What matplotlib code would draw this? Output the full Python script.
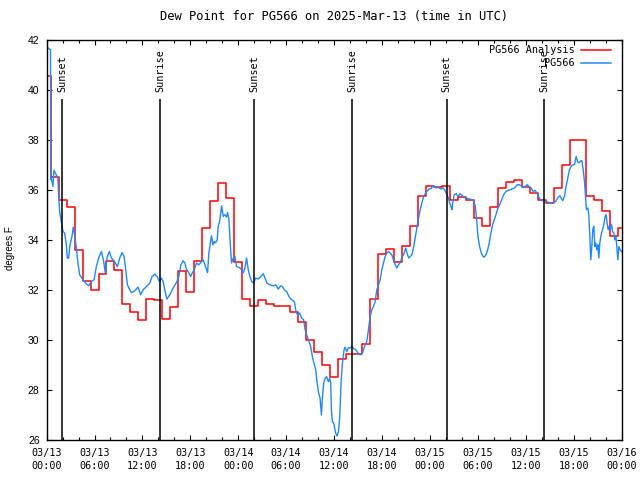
import matplotlib
matplotlib.use("Agg")
import matplotlib.pyplot as plt
from matplotlib.ticker import MultipleLocator

plt.rcParams['font.family'] = 'DejaVu Sans Mono'
plt.rcParams['font.size'] = 7.3

# hours since 2025-03-13 00:00 UTC
analysis_hours = list(range(73))
analysis_dewpt = [40.55, 36.5, 35.6, 35.3, 33.6, 32.35, 32.0, 32.65, 33.15, 32.8,
                  31.45, 31.1, 30.8, 31.65, 31.6, 30.85, 31.3, 32.75, 31.9, 33.15,
                  34.45, 35.55, 36.25, 35.65, 33.1, 31.65, 31.35, 31.6, 31.45, 31.35,
                  31.35, 31.1, 30.7, 30.0, 29.5, 29.0, 28.5, 29.25, 29.45, 29.45,
                  29.85, 31.65, 33.45, 33.65, 33.1, 33.75, 34.55, 35.75, 36.15, 36.1,
                  36.15, 35.6, 35.7, 35.6, 34.85, 34.55, 35.3, 36.05, 36.3, 36.4,
                  36.1, 35.85, 35.6, 35.45, 36.05, 37.0, 38.0, 38.0, 35.75, 35.6,
                  35.15, 34.15, 34.45]

obs_hours = [0.0, 0.15, 0.3, 0.49, 0.51, 0.59, 0.79, 0.92, 1.21, 1.42, 1.51, 1.63, 1.84,
             2.05, 2.26, 2.47, 2.59, 2.76, 2.93, 3.18, 3.34, 3.51, 3.72, 3.93, 4.14,
             4.56, 4.97, 5.27, 5.60, 5.94, 6.23, 6.52, 6.86, 7.11, 7.36, 7.48, 7.61,
             7.86, 8.11, 8.32, 8.61, 8.86, 9.16, 9.45, 9.70, 9.91, 10.12, 10.41, 10.62,
             11.04, 11.45, 11.79, 12.08, 12.50, 12.92, 13.21, 13.55, 13.88, 14.13,
             14.38, 14.59, 14.80, 15.05, 15.43, 15.84, 16.26, 16.56, 16.81, 17.10,
             17.31, 17.52, 17.73, 18.02, 18.23, 18.48, 18.77, 19.06, 19.40, 19.61,
             19.82, 20.03, 20.15, 20.32, 20.53, 20.65, 20.82, 20.99, 21.15, 21.36,
             21.49, 21.70, 21.91, 22.12, 22.32, 22.53, 22.66, 22.83, 22.99, 23.16,
             23.37, 23.58, 23.79, 24.0, 24.21, 24.41, 24.62, 24.83, 25.04, 25.25,
             25.46, 25.67, 25.92, 26.17, 26.51, 26.84, 27.13, 27.34, 27.59, 27.97,
             28.39, 28.68, 29.01, 29.31, 29.52, 29.77, 30.06, 30.35, 30.69, 31.02,
             31.19, 31.40, 31.69, 31.94, 32.19, 32.36, 32.57, 32.78, 33.07, 33.28,
             33.49, 33.70, 33.86, 34.03, 34.24, 34.41, 34.53, 34.70, 34.87, 35.07,
             35.28, 35.45, 35.58, 35.66, 35.79, 35.95, 36.20, 36.37, 36.54, 36.71,
             36.87, 37.04, 37.25, 37.37, 37.58, 37.79, 38.0, 38.21, 38.50, 38.75,
             39.0, 39.26, 39.55, 39.80, 40.09, 40.30, 40.51, 40.72, 40.93, 41.14,
             41.35, 41.56, 41.76, 41.97, 42.18, 42.39, 42.60, 42.81, 43.02, 43.23,
             43.44, 43.65, 43.86, 44.06, 44.27, 44.48, 44.77, 44.98, 45.19, 45.36,
             45.53, 45.74, 45.94, 46.15, 46.36, 46.57, 46.78, 46.99, 47.20, 47.41,
             47.62, 47.91, 48.16, 48.37, 48.54, 48.79, 49.08, 49.37, 49.62, 49.83,
             50.04, 50.21, 50.42, 50.63, 50.75, 50.88, 51.04, 51.30, 51.51, 51.80,
             52.05, 52.30, 52.63, 52.97, 53.26, 53.47, 53.68, 53.89, 54.01, 54.22,
             54.43, 54.64, 54.81, 55.02, 55.23, 55.43, 55.64, 55.85, 56.06, 56.27,
             56.48, 56.73, 56.98, 57.23, 57.53, 57.78, 58.07, 58.36, 58.61, 58.90,
             59.16, 59.41, 59.66, 59.91, 60.16, 60.41, 60.66, 60.91, 61.16, 61.41,
             61.62, 61.83, 62.08, 62.33, 62.58, 62.88, 63.17, 63.50, 63.75, 64.0,
             64.26, 64.42, 64.63, 64.84, 65.05, 65.26, 65.47, 65.68, 65.89, 66.10,
             66.31, 66.47, 66.64, 66.85, 67.02, 67.19, 67.35, 67.48, 67.60, 67.77,
             67.89, 68.02, 68.14, 68.27, 68.39, 68.52, 68.65, 68.77, 68.90, 69.02,
             69.15, 69.27, 69.44, 69.61, 69.77, 69.94, 70.07, 70.19, 70.32, 70.44,
             70.57, 70.74, 70.86, 71.03, 71.15, 71.28, 71.40, 71.53, 71.66, 71.82,
             71.99]
obs_dewpt = [41.72, 41.68, 41.62, 41.6, 36.4, 36.47, 36.13, 36.77, 36.6, 36.47, 35.73, 35.13, 34.73,
             34.33, 34.27, 33.8, 33.27, 33.27, 33.8, 34.13, 34.5, 34.2, 33.67, 33.07, 32.6,
             32.4, 32.24, 32.16, 32.33, 32.4, 32.93, 33.27, 33.53, 33.2, 32.67, 33.07, 33.33,
             33.53, 33.27, 33.2, 33.07, 32.93, 33.27, 33.49, 33.33, 32.8, 32.2, 32.0, 31.89,
             31.96, 32.11, 31.8, 32.0, 32.13, 32.27, 32.53, 32.63, 32.51, 32.33,
             32.47, 32.33, 32.0, 31.63, 31.8, 32.07, 32.29, 32.53, 33.0, 33.16,
             33.07, 32.8, 32.73, 32.53, 32.67, 32.8, 33.07, 33.0, 33.13, 33.2,
             33.0, 32.8, 32.69, 33.47, 33.93, 34.16, 33.8, 33.93, 33.87, 34.0,
             34.53, 34.8, 35.36, 34.93, 35.0, 34.91, 35.09, 34.8, 33.87, 33.07,
             33.27, 33.33, 32.93, 32.91, 32.87, 32.8, 32.67, 32.87, 33.27, 32.8,
             32.53, 32.33, 32.27, 32.47, 32.43, 32.53, 32.64, 32.47, 32.27, 32.2,
             32.16, 32.2, 32.03, 32.16, 32.13, 32.0, 31.93, 31.73, 31.6, 31.53,
             31.2, 31.0, 31.07, 30.87, 30.8, 30.43, 30.2, 30.0, 29.73, 29.33,
             29.07, 28.8, 28.33, 27.93, 27.67, 27.0, 27.67, 28.27, 28.47, 28.53,
             28.33, 28.47, 28.27, 27.2, 26.73, 26.67, 26.27, 26.16, 26.33, 26.93,
             28.27, 29.07, 29.6, 29.71, 29.53, 29.69, 29.67, 29.73, 29.64, 29.6,
             29.47, 29.4, 29.47, 29.73, 29.93, 30.4, 30.93, 31.2, 31.33, 31.53,
             32.0, 32.2, 32.4, 32.8, 33.07, 33.33, 33.47, 33.53, 33.47, 33.4,
             33.2, 33.0, 32.87, 33.0, 33.09, 33.27, 33.47, 33.67, 33.4, 33.27,
             33.33, 33.4, 33.67, 34.07, 34.47, 34.87, 35.2, 35.47, 35.71, 35.84,
             35.93, 36.03, 36.05, 36.16, 36.11, 36.07, 36.09, 36.03, 36.07, 36.0,
             35.87, 35.76, 35.53, 35.33, 35.2, 35.53, 35.8, 35.84, 35.73, 35.84,
             35.76, 35.69, 35.65, 35.63, 35.6, 35.57, 35.33, 34.67, 34.13, 33.73,
             33.47, 33.33, 33.31, 33.4, 33.6, 33.87, 34.27, 34.6, 34.8, 35.0,
             35.23, 35.4, 35.6, 35.8, 35.93, 35.97, 36.0, 36.04, 36.07, 36.19,
             36.2, 36.16, 36.08, 36.13, 36.2, 36.13, 36.07, 35.93, 35.97, 35.87,
             35.71, 35.6, 35.56, 35.57, 35.53, 35.49, 35.47, 35.49, 35.53, 35.67,
             35.76, 35.67, 35.56, 35.73, 36.13, 36.47, 36.8, 36.93, 37.0, 37.0,
             37.33, 37.13, 37.07, 37.13, 37.17, 36.8, 36.33, 35.71, 35.2, 35.27,
             35.0, 34.13, 33.2, 33.73, 34.4, 34.53, 33.73, 33.87, 33.6, 33.8,
             33.27, 33.87, 34.2, 34.4, 34.6, 34.93, 35.0, 34.67, 34.4, 34.53,
             34.4, 34.6, 34.33, 34.27, 34.0, 34.13, 33.73, 33.2, 33.73, 33.6,
             33.53]

event_hours = [1.95, 14.22, 26.0, 38.3, 50.1, 62.27]
event_labels = ["Sunset", "Sunrise", "Sunset", "Sunrise", "Sunset", "Sunrise"]

tick_hours = list(range(0, 73, 6))
tick_labels = ["03/13\n00:00", "03/13\n06:00", "03/13\n12:00", "03/13\n18:00",
               "03/14\n00:00", "03/14\n06:00", "03/14\n12:00", "03/14\n18:00",
               "03/15\n00:00", "03/15\n06:00", "03/15\n12:00", "03/15\n18:00",
               "03/16\n00:00"]

fig = plt.figure(figsize=(6.4, 4.8), dpi=100)
ax = fig.add_axes([46.6 / 640, 40 / 480, 575 / 640, 400.5 / 480])

ax.plot(analysis_hours, analysis_dewpt, drawstyle='steps-mid', color='#ff0000', lw=1.1)
ax.plot(obs_hours, obs_dewpt, color='#1e88ff', lw=1.0)

# sunrise / sunset markers
ax.vlines(event_hours, 26, 39.63, color='black', lw=1.1)
for h, lbl in zip(event_hours, event_labels):
    ax.text(h, 39.92, lbl, rotation=90, ha='center', va='bottom')

ax.set_xlim(0, 72)
ax.set_ylim(26, 42)
ax.set_xticks(tick_hours)
ax.set_xticklabels(tick_labels, linespacing=1.3)
ax.xaxis.set_minor_locator(MultipleLocator(2))
ax.set_yticks(range(26, 43, 2))
ax.tick_params(which='both', direction='in', top=True, right=True, width=0.8)
ax.tick_params(which='major', length=3.6)
ax.tick_params(which='minor', length=2.4)
ax.tick_params(axis='x', pad=6)
ax.tick_params(axis='y', pad=5)
for t in ax.get_yticklabels():
    t.set_family('Liberation Sans')
    t.set_fontsize(7.5)

ax.set_ylabel("degrees F", family='Liberation Sans', fontsize=7)
ax.yaxis.set_label_coords(-0.055, 0.48)

ax.set_title("Dew Point for PG566 on 2025-Mar-13 (time in UTC)", pad=14)

# legend, gnuplot style: text right-aligned, sample line after it
ax.text(0.918, 0.974, "PG566 Analysis", transform=ax.transAxes, ha='right', va='center')
ax.plot([0.930, 0.981], [0.974, 0.974], transform=ax.transAxes, color='#ff0000', lw=1.1)
ax.text(0.918, 0.941, "PG566", transform=ax.transAxes, ha='right', va='center')
ax.plot([0.930, 0.981], [0.941, 0.941], transform=ax.transAxes, color='#1e88ff', lw=1.1)

for s in ax.spines.values():
    s.set_linewidth(1.0)

fig.savefig("out.png", dpi=100)
